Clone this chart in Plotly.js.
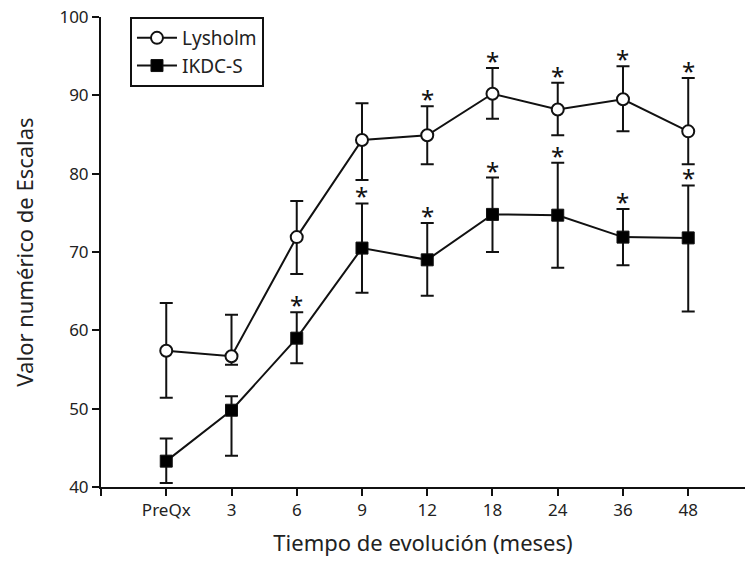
<!DOCTYPE html>
<html>
<head>
<meta charset="utf-8">
<script src="https://cdn.plot.ly/plotly-3.0.1.min.js"></script>
<style>html,body{margin:0;padding:0;background:#fff}#chart{width:745px;height:561px}</style>
</head>
<body>
<div id="chart"></div>
<script>
const categories = ["PreQx", "3", "6", "9", "12", "18", "24", "36", "48"];
const lysholmMean  = [57.4, 56.7, 71.9, 84.3, 84.9, 90.2, 88.2, 89.5, 85.4];
const lysholmUpper = [63.5, 62.0, 76.5, 89.0, 88.6, 93.5, 91.6, 93.7, 92.2];
const lysholmLower = [51.4, 55.6, 67.2, 79.2, 81.2, 87.0, 84.9, 85.4, 81.2];
const ikdcMean  = [43.3, 49.8, 59.0, 70.5, 69.0, 74.8, 74.7, 71.9, 71.8];
const ikdcUpper = [46.2, 51.6, 62.3, 76.2, 73.7, 79.5, 81.4, 75.5, 78.5];
const ikdcLower = [40.5, 44.0, 55.8, 64.8, 64.4, 70.0, 68.0, 68.3, 62.4];
const lysholmSig = [0, 0, 0, 0, 1, 1, 1, 1, 1];
const ikdcSig    = [0, 0, 1, 1, 1, 1, 1, 1, 1];
const yTicks = [40, 50, 60, 70, 80, 90, 100];

const xs = categories.map((c, i) => i);
const FONT = "Noto Sans, DejaVu Sans, sans-serif";
const INK = "#111";

function errObj(mean, up, lo) {
  return {
    type: "data", symmetric: false,
    array: up.map((u, i) => +(u - mean[i]).toFixed(2)),
    arrayminus: lo.map((l, i) => +(mean[i] - l).toFixed(2)),
    color: INK, thickness: 2, width: 6.5
  };
}

const traces = [
  {
    x: xs, y: lysholmMean, name: "Lysholm", type: "scatter", mode: "lines+markers",
    line: {color: INK, width: 2},
    marker: {symbol: "circle", size: 12, color: "#fff", line: {color: INK, width: 2}},
    error_y: errObj(lysholmMean, lysholmUpper, lysholmLower)
  },
  {
    x: xs, y: ikdcMean, name: "IKDC-S", type: "scatter", mode: "lines+markers",
    line: {color: INK, width: 2},
    marker: {symbol: "square", size: 12, color: "#000", line: {color: INK, width: 1}},
    error_y: errObj(ikdcMean, ikdcUpper, ikdcLower)
  }
];

const annotations = [];
function addStars(sig, up) {
  sig.forEach((s, i) => {
    if (s) annotations.push({
      x: xs[i], y: up[i], xref: "x", yref: "y", text: "*", showarrow: false,
      yanchor: "bottom", xanchor: "center", yshift: -11,
      font: {family: FONT, size: 24, color: INK}
    });
  });
}
addStars(lysholmSig, lysholmUpper);
addStars(ikdcSig, ikdcUpper);

const xTickVals = [-1].concat(xs);
const xTickText = [""].concat(categories);

const layout = {
  width: 745, height: 561,
  margin: {l: 101, r: 0, t: 17, b: 74, pad: 0},
  paper_bgcolor: "#fff", plot_bgcolor: "#fff",
  font: {family: FONT, color: "#222", size: 16},
  showlegend: true,
  legend: {
    x: 0.045, y: 1, xanchor: "left", yanchor: "top",
    bordercolor: INK, borderwidth: 2, bgcolor: "#fff",
    font: {family: FONT, size: 19, color: "#222"},
    itemwidth: 40, tracegroupgap: 0
  },
  xaxis: {
    range: [-1, 8.87], tickmode: "array", tickvals: xTickVals, ticktext: xTickText,
    showgrid: false, zeroline: false, showline: true, linecolor: INK, linewidth: 2,
    ticks: "outside", ticklen: 7, tickwidth: 2, tickcolor: INK,
    tickfont: {family: FONT, size: 17, color: "#222"},
    title: {text: "Tiempo de evolución (meses)", font: {family: FONT, size: 22, color: "#222"}, standoff: 15}
  },
  yaxis: {
    range: [40, 100], tickmode: "array", tickvals: yTicks,
    showgrid: false, zeroline: false, showline: true, linecolor: INK, linewidth: 2,
    ticks: "outside", ticklen: 7, tickwidth: 2, tickcolor: INK,
    tickfont: {family: FONT, size: 17, color: "#222"},
    title: {text: "Valor numérico de Escalas", font: {family: FONT, size: 22, color: "#222"}, standoff: 20}
  },
  annotations: annotations
};

Plotly.newPlot("chart", traces, layout, {displayModeBar: false, staticPlot: true});
</script>
</body>
</html>
